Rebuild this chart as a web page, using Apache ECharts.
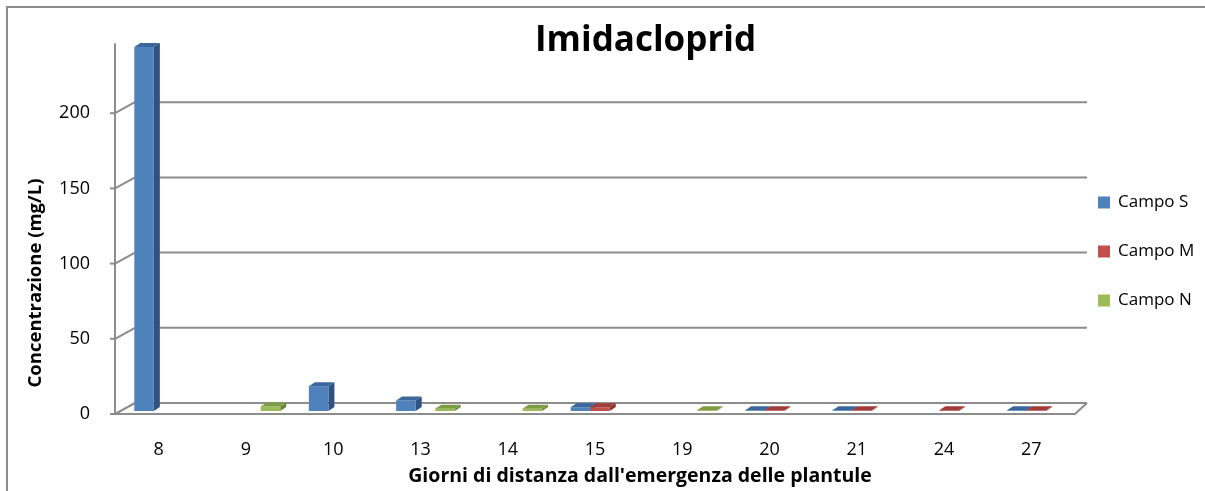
<!DOCTYPE html>
<html>
<head>
<meta charset="utf-8">
<script src="https://cdn.jsdelivr.net/npm/echarts@6/dist/echarts.min.js"></script>
<style>
html, body { margin: 0; padding: 0; background: #fff; }
#main { width: 1205px; height: 491px; }
</style>
</head>
<body>
<div id="main"></div>
<script>
// giorni dall'emergenza
var categories = ['8', '9', '10', '13', '14', '15', '19', '20', '21', '24', '27'];
var campoS = [242, null, 16.5, 7, null, 2.5, null, 0.5, 0.5, null, 0.5];
var campoM = [null, null, null, null, null, 2.5, null, 0.5, 0.5, 0.5, 0.5];
var campoN = [null, 3, null, 1.5, 1.5, null, 0.5, null, null, null, null];
var yTicks = [0, 50, 100, 150, 200];

var lineGray = '#8c8c8c';
var fontName = 'Open Sans';

// barre "3D" stile Excel: fronte, lato, cima
function barRenderer(slot, front, top, side) {
    return function (params, api) {
        var v = api.value(1);
        if (v == null || isNaN(v)) return;
        var i = api.value(0);
        var base = api.coord([i, 0]);
        var tp = api.coord([i, v]);
        var bw = api.size([1, 0])[0];
        var w = bw * 0.224;
        var x0 = base[0] - bw / 2 + bw * 0.164 + slot * w + 5;
        var yb = base[1] - 3, yt = tp[1] - 3;
        var dx = 6, dy = 4;
        return {
            type: 'group',
            children: [
                { type: 'polygon', shape: { points: [[x0 + w, yb], [x0 + w + dx, yb - dy], [x0 + w + dx, yt - dy], [x0 + w, yt]] }, style: { fill: side } },
                { type: 'rect', shape: { x: x0, y: yt, width: w, height: yb - yt }, style: { fill: front } },
                { type: 'polygon', shape: { points: [[x0, yt], [x0 + w, yt], [x0 + w + dx, yt - dy], [x0 + dx, yt - dy]] }, style: { fill: top } }
            ]
        };
    };
}

// pareti: tacche, diagonali e griglia sul fondo
function wallRenderer(params, api) {
    var cs = params.coordSys;
    var v = api.value(1);
    var y = api.coord([0, v])[1];
    var x = cs.x, xr = cs.x + cs.width;
    var st = { stroke: lineGray, lineWidth: 2, fill: null };
    var kids = [
        { type: 'line', shape: { x1: x - 5, y1: y, x2: x, y2: y }, style: st },
        { type: 'line', shape: { x1: x, y1: y, x2: x + 20, y2: y - 11 }, style: st },
        { type: 'line', shape: { x1: x + 20, y1: y - 11, x2: xr + 12, y2: y - 11 }, style: st }
    ];
    if (v === 0) {
        kids.push({ type: 'line', shape: { x1: xr, y1: y, x2: xr + 12, y2: y - 11 }, style: st });
    }
    return { type: 'group', children: kids };
}

var myChart = echarts.init(document.getElementById('main'));
var option = {
    backgroundColor: '#fff',
    animation: false,
    title: {
        text: 'Imidacloprid',
        left: 530,
        top: 19,
        textStyle: { fontFamily: fontName, fontSize: 35, fontWeight: 'bold', color: '#000' }
    },
    legend: {
        orient: 'vertical',
        left: 1093,
        top: 189,
        itemWidth: 12,
        itemHeight: 12,
        itemGap: 32,
        icon: 'rect',
        data: ['Campo S', 'Campo M', 'Campo N'],
        textStyle: { fontFamily: fontName, fontSize: 17, color: '#000', padding: [0, 0, 0, 3] }
    },
    grid: { left: 115, right: 130, top: 44, bottom: 76 },
    xAxis: {
        type: 'category',
        data: categories,
        axisLine: { lineStyle: { color: lineGray, width: 2 } },
        axisTick: { show: false },
        axisLabel: { margin: 27, fontFamily: fontName, fontSize: 18, color: '#000' },
        name: "Giorni di distanza dall'emergenza delle plantule",
        nameLocation: 'middle',
        nameGap: 52,
        nameTextStyle: { fontFamily: fontName, fontSize: 19.5, fontWeight: 'bold', color: '#000', padding: [0, 0, 0, 90] }
    },
    yAxis: {
        type: 'value',
        min: 0,
        max: 246,
        interval: 50,
        axisLine: { show: true, lineStyle: { color: lineGray, width: 2 } },
        axisTick: { show: false },
        splitLine: { show: false },
        axisLabel: { margin: 25, showMaxLabel: false, fontFamily: fontName, fontSize: 18, color: '#000' }
    },
    graphic: [
        { type: 'polyline', shape: { points: [[7, 500], [7, 7], [1210, 7]] }, style: { fill: null, stroke: lineGray, lineWidth: 2 } },
        { type: 'text', x: 36, y: 283, rotation: Math.PI / 2,
          style: { text: 'Concentrazione (mg/L)', align: 'center', verticalAlign: 'middle', fontFamily: fontName, fontSize: 18.5, fontWeight: 'bold', fill: '#000' } }
    ],
    series: [
        { type: 'custom', name: 'pareti', z: 1, clip: false, silent: true,
          renderItem: wallRenderer, data: yTicks.map(function (v) { return [0, v]; }) },
        { type: 'custom', name: 'Campo S', z: 3, clip: false, itemStyle: { color: '#4F81BD' },
          renderItem: barRenderer(0, '#4F81BD', '#3B679C', '#2F5282'),
          data: campoS.map(function (v, i) { return [i, v]; }) },
        { type: 'custom', name: 'Campo M', z: 3, clip: false, itemStyle: { color: '#C0504D' },
          renderItem: barRenderer(1, '#C0504D', '#A03C39', '#8A3230'),
          data: campoM.map(function (v, i) { return [i, v]; }) },
        { type: 'custom', name: 'Campo N', z: 3, clip: false, itemStyle: { color: '#9BBB59' },
          renderItem: barRenderer(2, '#9BBB59', '#7E9C44', '#6B8539'),
          data: campoN.map(function (v, i) { return [i, v]; }) }
    ]
};
if (option && typeof option === "object") {
    myChart.setOption(option, true);
}
</script>
</body>
</html>
